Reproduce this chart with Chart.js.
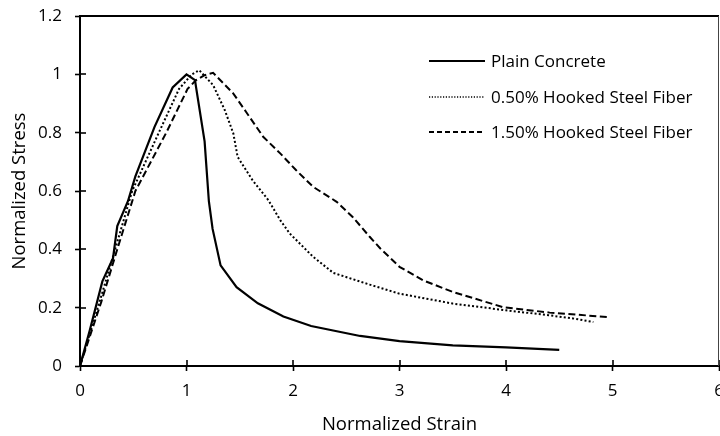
<!DOCTYPE html>
<html>
<head>
<meta charset="utf-8">
<script src="https://cdn.jsdelivr.net/npm/chart.js@4/dist/chart.umd.min.js"></script>
<style>
    html, body { margin: 0; padding: 0; background: #fff; }
    #wrap { width: 720px; height: 436px; }
</style>
</head>
<body>
<div id="wrap"><canvas id="chart" width="720" height="436"></canvas></div>
<script>
const FONT = "'Open Sans', sans-serif";

// stress-strain curves, normalized to peak
const plainStrain = [0, 0.09, 0.21, 0.31, 0.35, 0.45, 0.52, 0.7, 0.87, 1.0, 1.08, 1.09, 1.17, 1.21, 1.245, 1.32, 1.47, 1.67, 1.91, 2.17, 2.63, 3.0, 3.5, 4.0, 4.5];
const plainStress = [0, 0.12, 0.29, 0.37, 0.48, 0.565, 0.65, 0.82, 0.955, 1.0, 0.98, 0.955, 0.77, 0.565, 0.47, 0.345, 0.27, 0.215, 0.17, 0.137, 0.103, 0.085, 0.071, 0.064, 0.055];

const fiber050Strain = [0, 0.1, 0.2, 0.33, 0.49, 0.74, 0.93, 1.05, 1.12, 1.25, 1.36, 1.44, 1.48, 1.62, 1.77, 1.88, 1.97, 2.19, 2.38, 2.72, 3.0, 3.5, 4.0, 4.4, 4.63, 4.82];
const fiber050Stress = [0, 0.12, 0.24, 0.4, 0.6, 0.8, 0.95, 1.0, 1.014, 0.963, 0.877, 0.797, 0.717, 0.637, 0.568, 0.5, 0.454, 0.374, 0.319, 0.279, 0.248, 0.214, 0.191, 0.174, 0.163, 0.151];

const fiber150Strain = [0, 0.1, 0.2, 0.35, 0.52, 0.81, 1.01, 1.09, 1.17, 1.25, 1.44, 1.56, 1.72, 1.88, 2.03, 2.19, 2.41, 2.56, 2.72, 2.82, 3.0, 3.22, 3.5, 3.97, 4.41, 4.95];
const fiber150Stress = [0, 0.11, 0.22, 0.4, 0.6, 0.8, 0.95, 0.98, 0.997, 1.005, 0.934, 0.871, 0.786, 0.729, 0.671, 0.614, 0.563, 0.511, 0.443, 0.403, 0.34, 0.294, 0.254, 0.202, 0.183, 0.168];

const seriesLabels = ['Plain Concrete', '0.50% Hooked Steel Fiber', '1.50% Hooked Steel Fiber'];

const xTicks = [0, 1, 2, 3, 4, 5, 6];
const yTicks = [0, 0.2, 0.4, 0.6, 0.8, 1, 1.2];

function toPoints(xs, ys) {
    return xs.map((x, i) => ({ x, y: ys[i] }));
}

// inner half of the cross ticks, frame top/right, and the legend box
const framePlugin = {
    id: 'frame',
    afterDraw(chart) {
        const ctx = chart.ctx;
        const area = chart.chartArea;
        const xs = chart.scales.x;
        const ys = chart.scales.y;
        ctx.save();
        ctx.strokeStyle = '#000';
        ctx.lineWidth = 1.6;
        xTicks.forEach(v => {
            const px = Math.round(xs.getPixelForValue(v));
            ctx.beginPath();
            ctx.moveTo(px, area.bottom);
            ctx.lineTo(px, area.bottom - 6);
            ctx.stroke();
        });
        yTicks.forEach(v => {
            const py = Math.round(ys.getPixelForValue(v));
            ctx.beginPath();
            ctx.moveTo(area.left, py);
            ctx.lineTo(area.left + 6, py);
            ctx.stroke();
        });

        ctx.lineWidth = 2;
        ctx.beginPath();
        ctx.moveTo(area.left, area.top);
        ctx.lineTo(area.right, area.top);
        ctx.stroke();
        ctx.strokeStyle = '#444';
        ctx.lineWidth = 1;
        ctx.beginPath();
        ctx.moveTo(area.right - 0.5, area.top);
        ctx.lineTo(area.right - 0.5, area.bottom);
        ctx.stroke();

        // legend
        const legendDash = [[], [1.2, 1.6], [5, 3]];
        const legendWidth = [2, 1.3, 2];
        const rowY = [61, 97, 132];
        chart.data.datasets.forEach((ds, i) => {
            ctx.strokeStyle = '#000';
            ctx.lineWidth = legendWidth[i];
            ctx.setLineDash(legendDash[i]);
            ctx.beginPath();
            ctx.moveTo(429, rowY[i]);
            ctx.lineTo(485, rowY[i]);
            ctx.stroke();
            ctx.setLineDash([]);
            ctx.fillStyle = '#000';
            ctx.font = '17px ' + FONT;
            ctx.textBaseline = 'middle';
            ctx.textAlign = 'left';
            ctx.fillText(ds.label, 491, rowY[i] + 1);
        });
        ctx.restore();
    }
};

function lineSet(label, xs, ys, dash, width) {
    return {
        label,
        data: toPoints(xs, ys),
        borderColor: '#000',
        backgroundColor: 'transparent',
        borderWidth: width,
        borderDash: dash,
        pointRadius: 0,
        tension: 0,
    };
}

new Chart(document.getElementById('chart'), {
    type: 'line',
    data: {
        datasets: [
            lineSet(seriesLabels[0], plainStrain, plainStress, [], 2.2),
            lineSet(seriesLabels[1], fiber050Strain, fiber050Stress, [2, 2.2], 2),
            lineSet(seriesLabels[2], fiber150Strain, fiber150Stress, [7, 3.5], 2),
        ],
    },
    options: {
        responsive: false,
        animation: false,
        layout: { padding: { top: 16, right: 1, left: 0, bottom: 0 } },
        plugins: {
            legend: { display: false },
            tooltip: { enabled: false },
        },
        scales: {
            x: {
                type: 'linear',
                min: 0,
                max: 6,
                afterBuildTicks: s => { s.ticks = xTicks.map(v => ({ value: v })); },
                afterFit: s => { s.height = 70; s.paddingLeft = 0; s.paddingRight = 0; },
                grid: { drawOnChartArea: false, tickLength: 5, tickColor: '#000', tickWidth: 1.6 },
                border: { color: '#000', width: 2 },
                ticks: { color: '#000', font: { family: FONT, size: 17 }, padding: 10, maxRotation: 0, autoSkip: false },
                title: { display: true, text: 'Normalized Strain', color: '#000', font: { family: FONT, size: 18.5 }, padding: { top: 0, bottom: 0 } },
            },
            y: {
                min: 0,
                max: 1.2,
                afterBuildTicks: s => { s.ticks = yTicks.map(v => ({ value: v })); },
                afterFit: s => { s.width = 80; s.paddingTop = 0; s.paddingBottom = 0; },
                grid: { drawOnChartArea: false, tickLength: 5, tickColor: '#000', tickWidth: 1.6 },
                border: { color: '#000', width: 2 },
                ticks: { color: '#000', font: { family: FONT, size: 17 }, padding: 13, callback: v => String(v) },
                title: { display: true, text: 'Normalized Stress', color: '#000', font: { family: FONT, size: 18.5 }, padding: { top: 9, bottom: 0 } },
            },
        },
    },
    plugins: [framePlugin],
});
</script>
</body>
</html>
